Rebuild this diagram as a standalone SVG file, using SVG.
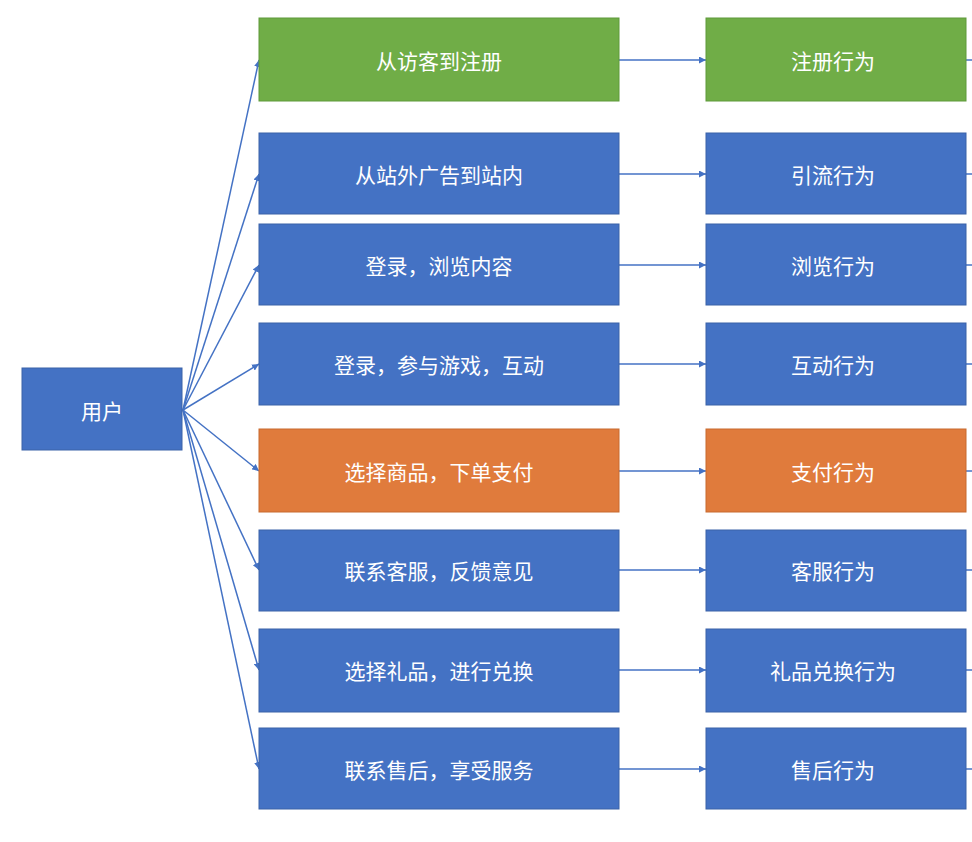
<svg xmlns="http://www.w3.org/2000/svg" width="972" height="842" viewBox="0 0 972 842">
<style>
.b{fill:#4472C4;stroke:#3A62A8;stroke-width:1}
.g{fill:#70AD47;stroke:#5E9A3A;stroke-width:1}
.o{fill:#E07B3C;stroke:#C86A2E;stroke-width:1}
text{font-family:"Noto Sans CJK SC","Liberation Sans",sans-serif;font-size:21px;fill:#fff;text-anchor:middle;dominant-baseline:central}
.c line{stroke:#4472C4;stroke-width:1.5;marker-end:url(#a)}
.s line{stroke:#4472C4;stroke-width:1.5}
</style>
<defs><marker id="a" viewBox="0 0 10 10" refX="10" refY="5" markerWidth="7" markerHeight="7" markerUnits="userSpaceOnUse" orient="auto"><path d="M0,0L10,5L0,10z" fill="#4472C4"/></marker></defs>
<rect width="972" height="842" fill="#fff"/>
<g id="connectors">
<g class="c">
<line x1="183" y1="410" x2="259" y2="60"/>
<line x1="183" y1="410" x2="259" y2="174"/>
<line x1="183" y1="410" x2="259" y2="265"/>
<line x1="183" y1="410" x2="259" y2="364"/>
<line x1="183" y1="410" x2="259" y2="471"/>
<line x1="183" y1="410" x2="259" y2="570"/>
<line x1="183" y1="410" x2="259" y2="670"/>
<line x1="183" y1="410" x2="259" y2="769"/>
<line x1="619" y1="60" x2="706" y2="60"/>
<line x1="619" y1="174" x2="706" y2="174"/>
<line x1="619" y1="265" x2="706" y2="265"/>
<line x1="619" y1="364" x2="706" y2="364"/>
<line x1="619" y1="471" x2="706" y2="471"/>
<line x1="619" y1="570" x2="706" y2="570"/>
<line x1="619" y1="670" x2="706" y2="670"/>
<line x1="619" y1="769" x2="706" y2="769"/>
</g>
<g class="s">
<line x1="966" y1="60" x2="972" y2="60"/><line x1="966" y1="174" x2="972" y2="174"/>
<line x1="966" y1="265" x2="972" y2="265"/><line x1="966" y1="364" x2="972" y2="364"/>
<line x1="966" y1="471" x2="972" y2="471"/><line x1="966" y1="570" x2="972" y2="570"/>
<line x1="966" y1="670" x2="972" y2="670"/><line x1="966" y1="769" x2="972" y2="769"/>
</g>
</g>
<g id="user"><rect class="b" x="22" y="368" width="160" height="82"/><text x="102" y="410">用户</text></g>
<g id="m1"><rect class="g" x="259" y="18" width="360" height="83"/><text x="439" y="60">从访客到注册</text></g>
<g id="m2"><rect class="b" x="259" y="133" width="360" height="81"/><text x="439" y="174">从站外广告到站内</text></g>
<g id="m3"><rect class="b" x="259" y="224" width="360" height="81"/><text x="439" y="265">登录，浏览内容</text></g>
<g id="m4"><rect class="b" x="259" y="323" width="360" height="82"/><text x="439" y="364">登录，参与游戏，互动</text></g>
<g id="m5"><rect class="o" x="259" y="429" width="360" height="83"/><text x="439" y="471">选择商品，下单支付</text></g>
<g id="m6"><rect class="b" x="259" y="530" width="360" height="81"/><text x="439" y="570">联系客服，反馈意见</text></g>
<g id="m7"><rect class="b" x="259" y="629" width="360" height="83"/><text x="439" y="670">选择礼品，进行兑换</text></g>
<g id="m8"><rect class="b" x="259" y="728" width="360" height="81"/><text x="439" y="769">联系售后，享受服务</text></g>
<g id="r1"><rect class="g" x="706" y="18" width="260" height="83"/><text x="833" y="60">注册行为</text></g>
<g id="r2"><rect class="b" x="706" y="133" width="260" height="81"/><text x="833" y="174">引流行为</text></g>
<g id="r3"><rect class="b" x="706" y="224" width="260" height="81"/><text x="833" y="265">浏览行为</text></g>
<g id="r4"><rect class="b" x="706" y="323" width="260" height="82"/><text x="833" y="364">互动行为</text></g>
<g id="r5"><rect class="o" x="706" y="429" width="260" height="83"/><text x="833" y="471">支付行为</text></g>
<g id="r6"><rect class="b" x="706" y="530" width="260" height="81"/><text x="833" y="570">客服行为</text></g>
<g id="r7"><rect class="b" x="706" y="629" width="260" height="83"/><text x="833" y="670">礼品兑换行为</text></g>
<g id="r8"><rect class="b" x="706" y="728" width="260" height="81"/><text x="833" y="769">售后行为</text></g>
</svg>
